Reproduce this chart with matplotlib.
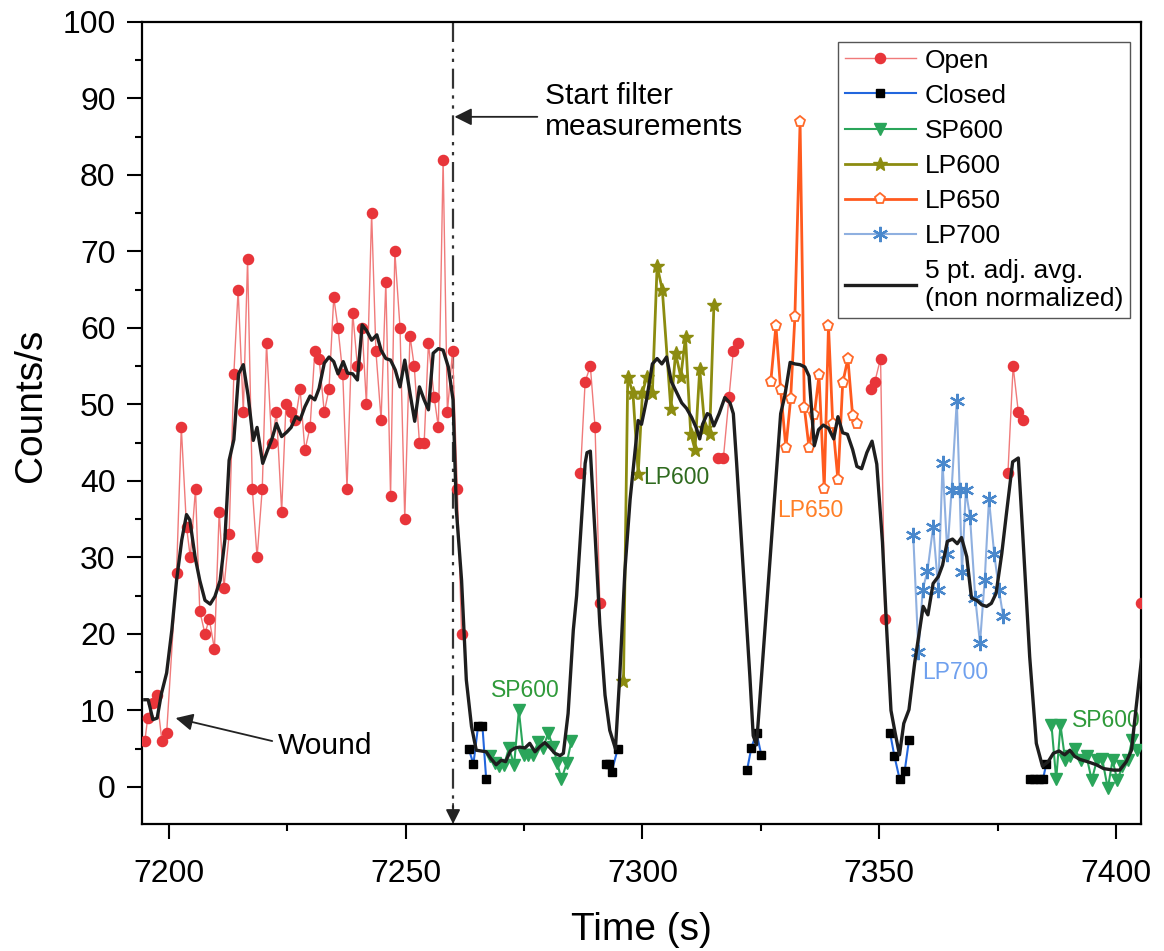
import numpy as np
import matplotlib
matplotlib.use('Agg')
import matplotlib.pyplot as plt
from matplotlib.ticker import MultipleLocator

plt.rcParams['font.family'] = ['Liberation Sans', 'DejaVu Sans']

# counts per second, one list per filter setting, split where the setting changes
open_t = [
    [7194.9, 7195.5, 7196.6, 7197.4, 7198.5, 7199.5, 7201.6, 7202.6, 7203.7, 7204.5,
     7205.6, 7206.5, 7207.6, 7208.5, 7209.6, 7210.6, 7211.6, 7212.7, 7213.7, 7214.6,
     7215.7, 7216.6, 7217.6, 7218.6, 7219.7, 7220.6, 7221.7, 7222.7, 7223.8, 7224.7,
     7225.7, 7226.7, 7227.7, 7228.7, 7229.8, 7230.8, 7231.7, 7232.8, 7233.8, 7234.8,
     7235.7, 7236.7, 7237.6, 7238.8, 7239.8, 7240.8, 7241.7, 7242.8, 7243.7, 7244.8,
     7245.8, 7246.8, 7247.7, 7248.8, 7249.8, 7250.9, 7251.8, 7252.9, 7253.9, 7254.8,
     7256.0, 7256.9, 7257.9, 7258.8, 7259.9, 7260.9, 7261.8],
    [7286.9, 7287.9, 7289.0, 7290.0, 7291.0],
    [7316.0, 7317.1, 7318.3, 7319.2, 7320.2],
    [7348.2, 7349.1, 7350.3, 7351.2],
    [7377.2, 7378.3, 7379.4, 7380.4],
    [7405.4],
]
open_y = [
    [6, 9, 11, 12, 6, 7, 28, 47, 34, 30,
     39, 23, 20, 22, 18, 36, 26, 33, 54, 65,
     49, 69, 39, 30, 39, 58, 45, 49, 36, 50,
     49, 48, 52, 44, 47, 57, 56, 49, 52, 64,
     60, 54, 39, 62, 55, 60, 50, 75, 57, 48,
     66, 38, 70, 60, 35, 59, 55, 45, 45, 58,
     51, 47, 82, 49, 57, 39, 20],
    [41, 53, 55, 47, 24],
    [43, 43, 51, 57, 58],
    [52, 53, 56, 22],
    [41, 55, 49, 48],
    [24],
]

closed_t = [
    [7263.3, 7264.3, 7265.3, 7266.2, 7267.0],
    [7292.3, 7293.0, 7293.5, 7294.8],
    [7322.1, 7323.0, 7324.1, 7325.1],
    [7352.3, 7353.2, 7354.3, 7355.4, 7356.3],
    [7381.9, 7382.8, 7383.7, 7384.6, 7385.3],
]
closed_y = [
    [5, 3, 8, 8, 1],
    [3, 3, 2, 5],
    [2.2, 5.1, 7.1, 4.2],
    [7.1, 4.1, 1.1, 2.1, 6.1],
    [1, 1, 1, 1, 3],
]

sp600_t = [
    [7267.8, 7268.8, 7269.8, 7270.8, 7271.8, 7272.9, 7273.9, 7274.9, 7275.9, 7276.9,
     7278.0, 7279.0, 7280.1, 7281.2, 7282.0, 7282.9, 7284.0, 7285.0],
    [7386.4, 7387.4, 7388.3, 7389.3, 7390.3, 7391.3, 7392.6, 7393.8, 7394.9, 7396.0,
     7397.1, 7398.3, 7399.3, 7400.3, 7401.4, 7402.5, 7403.4, 7404.4],
]
sp600_y = [
    [4.1, 3.1, 2.7, 2.9, 5.1, 2.9, 10, 4.2, 4.2, 4.2,
     5.9, 5.1, 7.0, 5.2, 3.1, 1.0, 3.1, 6.0],
    [8.1, 1.0, 8.1, 3.5, 4.0, 4.9, 3.5, 4.0, 0.9, 3.5,
     3.7, -0.2, 3.5, 0.9, 2.7, 3.5, 6.1, 4.8],
]

lp600_t = [7296.0, 7296.9, 7298.0, 7299.1, 7300.0, 7300.9, 7302.1, 7303.1, 7304.2, 7306.0,
           7307.0, 7308.1, 7309.1, 7310.2, 7311.1, 7312.1, 7313.2, 7314.2, 7315.1]
lp600_y = [13.8, 53.6, 51.5, 40.9, 51.5, 53.6, 51.5, 68.1, 65, 49.4,
           56.7, 53.6, 58.8, 46.2, 44.1, 54.6, 46.9, 46.2, 63]

lp650_t = [7327.1, 7328.2, 7329.2, 7330.3, 7331.3, 7332.2, 7333.3, 7334.2, 7335.2, 7336.3,
           7337.3, 7338.4, 7339.3, 7340.2, 7341.3, 7342.3, 7343.4, 7344.4, 7345.4]
lp650_y = [52.9, 60.3, 51.9, 44.3, 50.7, 61.4, 86.9, 49.6, 44.3, 48.6,
           53.8, 39.0, 60.3, 47.5, 40.1, 52.8, 56.0, 48.5, 47.5]

lp700_t = [7357.2, 7358.3, 7359.2, 7360.2, 7361.4, 7362.5, 7363.4, 7364.4, 7365.3, 7366.4,
           7367.0, 7367.5, 7368.3, 7369.2, 7370.3, 7371.3, 7372.3, 7373.2, 7374.3, 7375.3,
           7376.2]
lp700_y = [32.9, 17.7, 25.8, 28.2, 34.0, 25.8, 42.3, 30.5, 38.8, 50.5,
           38.8, 28.1, 38.8, 35.3, 24.7, 18.8, 27.1, 37.6, 30.5, 25.8,
           22.3]

# 5 point adjacent average (non normalized)
avg_t = [7194.9, 7195.6, 7196.6, 7197.5, 7198.4, 7199.5, 7200.6, 7201.6, 7202.7, 7203.7,
         7204.4, 7205.5, 7206.5, 7207.6, 7208.7, 7209.7, 7210.8, 7211.8, 7212.7, 7213.7,
         7214.7, 7215.7, 7216.7, 7217.8, 7218.6, 7219.8, 7220.8, 7221.7, 7222.7, 7223.8,
         7224.9, 7225.8, 7226.8, 7227.7, 7228.7, 7229.8, 7230.8, 7231.7, 7232.8, 7233.8,
         7234.8, 7235.7, 7236.8, 7237.7, 7238.8, 7239.8, 7240.8, 7241.7, 7242.8, 7243.9,
         7244.8, 7245.8, 7246.8, 7247.8, 7248.8, 7249.8, 7250.9, 7251.9, 7252.9, 7253.9,
         7254.8, 7255.8, 7256.9, 7257.9, 7259.0, 7260.0, 7260.7, 7261.8, 7262.8, 7263.9,
         7264.9, 7265.9, 7267.0, 7268.0, 7269.1, 7270.2, 7271.1, 7272.1, 7273.1, 7274.1,
         7275.2, 7276.2, 7277.3, 7278.4, 7279.4, 7280.5, 7281.5, 7282.6, 7283.3, 7284.3,
         7285.4, 7286.1, 7287.9, 7288.3, 7289.0, 7290.0, 7291.0, 7292.1, 7293.1, 7294.3,
         7295.2, 7296.3, 7297.4, 7299.1, 7299.8, 7300.9, 7302.1, 7303.1, 7304.1, 7305.1,
         7306.1, 7307.2, 7308.3, 7309.3, 7310.4, 7311.4, 7312.1, 7312.7, 7313.7, 7314.3,
         7315.1, 7316.2, 7317.4, 7318.5, 7319.2, 7319.9, 7321.3, 7322.7, 7323.4, 7324.1,
         7329.2, 7330.1, 7331.2, 7332.2, 7333.3, 7334.3, 7335.2, 7336.3, 7337.2, 7338.2,
         7339.3, 7340.4, 7341.3, 7342.3, 7343.3, 7344.4, 7345.3, 7346.3, 7347.4, 7348.5,
         7349.5, 7350.7, 7351.6, 7352.5, 7353.4, 7354.3, 7355.2, 7356.3, 7357.5, 7359.3,
         7360.3, 7361.4, 7362.5, 7363.4, 7364.4, 7365.5, 7366.5, 7367.4, 7368.5, 7369.5,
         7370.6, 7371.7, 7372.7, 7373.7, 7374.7, 7375.9, 7376.9, 7378.2, 7379.4, 7380.4,
         7381.8, 7383.2, 7384.5, 7385.7, 7386.8, 7388.0, 7389.2, 7390.3, 7391.3, 7392.4,
         7393.5, 7394.5, 7395.9, 7397.4, 7399.5, 7400.8, 7402.2, 7403.3, 7404.3, 7405.4]
avg_y = [11.4, 11.4, 8.8, 9.0, 12.2, 14.9, 20.5, 27.0, 32.3, 35.6,
         34.9, 30.1, 27.0, 24.4, 23.9, 24.9, 27.0, 32.3, 42.7, 45.4,
         54.0, 55.2, 51.2, 45.3, 47.0, 42.3, 44.0, 45.4, 47.5, 45.8,
         46.4, 47.0, 48.4, 48.0, 49.7, 51.1, 50.6, 52.1, 55.4, 56.2,
         55.6, 54.0, 55.6, 54.1, 54.0, 53.2, 60.4, 59.7, 58.4, 59.1,
         57.1, 56.0, 55.8, 54.5, 52.3, 55.8, 51.5, 47.8, 52.3, 50.6,
         49.3, 56.7, 57.3, 57.1, 54.9, 50.6, 36.2, 27.0, 14.0, 7.9,
         4.8, 4.7, 4.6, 3.7, 2.9, 3.5, 3.3, 4.7, 5.1, 5.2,
         5.1, 5.7, 4.6, 5.3, 5.8, 5.1, 4.4, 4.1, 4.4, 9.6,
         20.5, 25.0, 42.3, 43.7, 43.9, 33.0, 21.3, 12.0, 7.4, 5.0,
         14.4, 28.3, 37.6, 47.9, 47.4, 50.7, 55.3, 56.0, 55.3, 56.2,
         53.0, 51.6, 50.2, 49.5, 48.3, 46.9, 45.5, 47.4, 48.8, 48.6,
         47.2, 48.8, 50.9, 50.2, 48.8, 42.3, 28.3, 14.4, 6.7, 5.5,
         48.8, 51.2, 55.5, 55.3, 55.2, 54.9, 53.7, 44.6, 46.7, 47.3,
         46.9, 45.5, 48.4, 46.3, 46.1, 44.1, 41.9, 41.6, 43.7, 45.2,
         42.2, 32.0, 20.5, 10.0, 7.0, 4.2, 8.3, 10.1, 16.2, 23.6,
         22.5, 26.6, 27.5, 29.0, 32.1, 32.4, 31.8, 32.6, 30.1, 24.7,
         24.4, 23.8, 23.6, 24.0, 25.3, 30.5, 35.8, 42.5, 43.0, 32.3,
         17.0, 5.7, 2.7, 3.3, 4.4, 4.7, 4.2, 4.8, 4.0, 3.6,
         3.4, 3.2, 2.9, 2.4, 2.2, 2.2, 3.3, 4.8, 10.5, 16.6]

filter_start = 7260

fig = plt.figure(figsize=(11.64, 9.51), dpi=100)
ax = fig.add_axes([0.122, 0.1335, 0.8582, 0.8434])

def plot_segments(ts, ys, label, **kw):
    for i, (t, y) in enumerate(zip(ts, ys)):
        ax.plot(t, y, label=label if i == 0 else None, **kw)

plot_segments(open_t, open_y, 'Open', color='#f07a7a', lw=1.0, marker='o', ms=7.3,
              mfc='#e8353a', mec='#e8353a', zorder=3)
plot_segments(closed_t, closed_y, 'Closed', color='#2266dd', lw=1.5, marker='s', ms=5.8,
              mfc='black', mec='black', zorder=3)
plot_segments(sp600_t, sp600_y, 'SP600', color='#2aa55a', lw=1.5, marker='v', ms=8.5,
              mfc='#2aa55a', mec='#2aa55a', zorder=3)
ax.plot(lp600_t, lp600_y, label='LP600', color='#8c8c10', lw=2.0, marker='*', ms=10,
        mfc='#8c8c10', mec='#8c8c10', zorder=3)
ax.plot(lp650_t, lp650_y, label='LP650', color='#ff5a1e', lw=2.0, marker='p', ms=8,
        mfc='white', mec='#ff6a2a', mew=1.3, zorder=3)
ax.plot(lp700_t, lp700_y, label='LP700', color='#8fb0e0', lw=1.5, marker=(6, 2, 0), ms=11,
        mec='#4a88cc', mew=1.6, zorder=3)
ax.plot(avg_t, avg_y, label='5 pt. adj. avg.\n(non normalized)', color='#1e1e1e', lw=2.4,
        zorder=4)

# start of filter measurements
ax.plot([filter_start, filter_start], [100, -3], color='#333333', lw=1.6,
        linestyle=(0, (9, 3, 1.5, 3, 1.5, 3)), zorder=2)
ax.annotate('', xy=(filter_start, -4.85), xytext=(filter_start, -2.2),
            arrowprops=dict(arrowstyle='-|>', color='#222222', lw=1.2,
                            mutation_scale=22, shrinkA=0, shrinkB=0))
ax.annotate('', xy=(7260.3, 87.6), xytext=(7277.8, 87.6),
            arrowprops=dict(arrowstyle='-|>', color='#222222', lw=1.3,
                            mutation_scale=26, shrinkA=0, shrinkB=0))
ax.text(7279.4, 88.3, 'Start filter\nmeasurements', fontsize=21.5, ha='left', va='center',
        linespacing=1.15)

ax.annotate('', xy=(7201.4, 9.0), xytext=(7221.8, 6.0),
            arrowprops=dict(arrowstyle='-|>', color='#222222', lw=1.3,
                            mutation_scale=26, shrinkA=0, shrinkB=0))
ax.text(7223.0, 5.4, 'Wound', fontsize=21.5, ha='left', va='center')

ax.text(7275.3, 12.6, 'SP600', fontsize=16.5, color='#2f9a3a', ha='center', va='center')
ax.text(7307.2, 40.5, 'LP600', fontsize=16.5, color='#2f6b1f', ha='center', va='center')
ax.text(7335.4, 36.2, 'LP650', fontsize=16.5, color='#ff7f27', ha='center', va='center')
ax.text(7366.0, 14.9, 'LP700', fontsize=16.5, color='#6fa0ee', ha='center', va='center')
ax.text(7397.9, 8.7, 'SP600', fontsize=16.5, color='#2f9a3a', ha='center', va='center')

ax.set_xlim(7194.3, 7405.3)
ax.set_ylim(-4.85, 100)
ax.xaxis.set_major_locator(MultipleLocator(50))
ax.xaxis.set_minor_locator(MultipleLocator(25))
ax.yaxis.set_major_locator(MultipleLocator(10))
ax.yaxis.set_minor_locator(MultipleLocator(5))
ax.tick_params(which='major', length=11, width=1.5, labelsize=23, pad=8, direction='out')
ax.tick_params(axis='x', which='major', pad=14)
ax.tick_params(which='minor', length=5, width=1.5, direction='out')
ax.tick_params(top=False, right=False, which='both')
for s in ax.spines.values():
    s.set_linewidth(1.6)

ax.set_xlabel('Time (s)', fontsize=28)
ax.set_ylabel('Counts/s', fontsize=28)
ax.yaxis.set_label_coords(-0.093, 0.522)
ax.xaxis.set_label_coords(0.5, -0.11)

leg = ax.legend(loc='upper right', bbox_to_anchor=(0.989, 0.975), fontsize=19,
                frameon=True, fancybox=False, edgecolor='#555555', framealpha=1,
                handlelength=2.7, labelspacing=0.42, borderpad=0.25, handletextpad=0.35,
                borderaxespad=0)
leg.get_frame().set_linewidth(1.0)

fig.savefig('out.png', dpi=100)
